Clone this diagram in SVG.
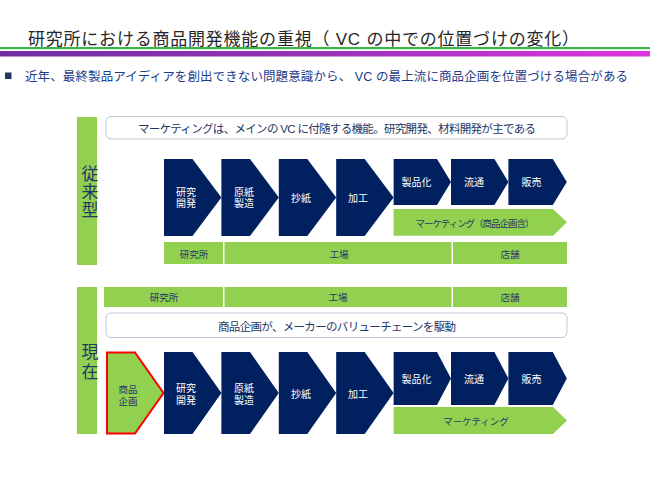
<svg xmlns="http://www.w3.org/2000/svg" width="650" height="487" viewBox="0 0 650 487">
<defs>
<linearGradient id="band" x1="0" y1="0" x2="1" y2="0">
<stop offset="0" stop-color="#6F2F9F"/>
<stop offset="0.5" stop-color="#9A32B8"/>
<stop offset="1" stop-color="#DE35DE"/>
</linearGradient>
<style>
text{font-family:"Liberation Sans","Noto Sans CJK JP",sans-serif;}
.navy{fill:#002060;}
.green{fill:#92D050;}
.box{fill:#FFFFFF;stroke:#BCC7D5;stroke-width:1;}
.wt{fill:#FFFFFF;font-size:10px;text-anchor:middle;}
.lb{fill:#1F3864;font-size:9.5px;text-anchor:middle;}
.bt{fill:#1F3864;font-size:11.5px;text-anchor:middle;}
.vt{fill:#1F3864;font-size:17px;text-anchor:middle;}
</style>
</defs>
<rect width="650" height="487" fill="#FFFFFF"/>

<g id="header">
<text x="28" y="44.5" font-size="17" fill="#262626" textLength="551" lengthAdjust="spacing">研究所における商品開発機能の重視（ VC の中での位置づけの変化）</text>
<rect x="0" y="47" width="650" height="2.2" fill="#3CB44B"/>
<rect x="0" y="51" width="650" height="5.5" fill="url(#band)"/>
<rect x="5" y="72.5" width="6.5" height="6.5" fill="#1F3864"/>
<text x="25" y="81" font-size="12.5" fill="#1F3C88" textLength="603" lengthAdjust="spacing">近年、最終製品アイディアを創出できない問題意識から、 VC の最上流に商品企画を位置づける場合がある</text>
</g>

<g id="connectors"/>

<!-- Conventional section -->
<g id="label-conventional">
<rect x="77" y="117" width="20" height="148" class="green"/>
<text x="90" y="179.5" class="vt">従</text>
<text x="90" y="198" class="vt">来</text>
<text x="90" y="216" class="vt">型</text>
</g>
<g id="note-conventional">
<rect x="106" y="116.5" width="461" height="22.5" rx="5" class="box"/>
<text x="337" y="132.5" class="bt" textLength="398" lengthAdjust="spacing">マーケティングは、メインの VC に付随する機能。研究開発、材料開発が主である</text>
</g>
<g id="c1-rd">
<polygon points="164,159 192.5,159 221.4,197.5 192.5,236 164,236" class="navy"/>
<text x="186" y="195.5" class="wt">研究</text><text x="186" y="206.5" class="wt">開発</text>
</g>
<g id="c1-pulp">
<polygon points="221.4,159 250,159 278.8,197.5 250,236 221.4,236" class="navy"/>
<text x="244" y="195.5" class="wt">原紙</text><text x="244" y="206.5" class="wt">製造</text>
</g>
<g id="c1-paper">
<polygon points="278.8,159 307.3,159 336.2,197.5 307.3,236 278.8,236" class="navy"/>
<text x="301" y="202" class="wt">抄紙</text>
</g>
<g id="c1-process">
<polygon points="336.2,159 364.7,159 393.6,197.5 364.7,236 336.2,236" class="navy"/>
<text x="358" y="202" class="wt">加工</text>
</g>
<g id="c1-product">
<polygon points="393.6,159 437,159 451,182 437,205 393.6,205" class="navy"/>
<text x="416.5" y="186" class="wt">製品化</text>
</g>
<g id="c1-dist">
<polygon points="451,159 494.4,159 508.4,182 494.4,205 451,205" class="navy"/>
<text x="474" y="186" class="wt">流通</text>
</g>
<g id="c1-sales">
<polygon points="508.4,159 552.8,159 566.8,182 552.8,205 508.4,205" class="navy"/>
<text x="531.5" y="186" class="wt">販売</text>
</g>
<g id="c1-marketing">
<polygon points="393.6,209 553,209 567,222.3 553,235.7 393.6,235.7" class="green"/>
<text x="475" y="226.5" class="lb" textLength="119" lengthAdjust="spacing">マーケティング（商品企画含）</text>
</g>
<g id="c1-places">
<rect x="164" y="242" width="59" height="22" class="green"/>
<rect x="224.5" y="242" width="227" height="22" class="green"/>
<rect x="453" y="242" width="114" height="22" class="green"/>
<text x="194" y="257.5" class="lb">研究所</text>
<text x="339" y="257.5" class="lb">工場</text>
<text x="510" y="257.5" class="lb">店舗</text>
</g>

<!-- Current section -->
<g id="label-current">
<rect x="77" y="287" width="20" height="147" class="green"/>
<text x="90" y="358" class="vt">現</text>
<text x="90" y="378" class="vt">在</text>
</g>
<g id="c2-places">
<rect x="104" y="287" width="119" height="20" class="green"/>
<rect x="224.5" y="287" width="227" height="20" class="green"/>
<rect x="453" y="287" width="114" height="20" class="green"/>
<text x="164" y="300.5" class="lb">研究所</text>
<text x="338" y="300.5" class="lb">工場</text>
<text x="510" y="300.5" class="lb">店舗</text>
</g>
<g id="note-current">
<rect x="106" y="313" width="461" height="24.5" rx="5" class="box"/>
<text x="337" y="330.5" class="bt" font-size="11" textLength="238" lengthAdjust="spacing">商品企画が、メーカーのバリューチェーンを駆動</text>
</g>
<g id="c2-planning">
<polygon points="107,352.5 135,352.5 163.5,393 135,433.5 107,433.5" fill="#92D050" stroke="#FF0000" stroke-width="2" stroke-linejoin="miter"/>
<text x="128" y="392.5" class="lb" font-size="10">商品</text><text x="128" y="405" class="lb" font-size="10">企画</text>
</g>
<g id="c2-rd">
<polygon points="164,352 192.5,352 221.4,393 192.5,434 164,434" class="navy"/>
<text x="186" y="392" class="wt">研究</text><text x="186" y="403.5" class="wt">開発</text>
</g>
<g id="c2-pulp">
<polygon points="221.4,352 250,352 278.8,393 250,434 221.4,434" class="navy"/>
<text x="244" y="392" class="wt">原紙</text><text x="244" y="403.5" class="wt">製造</text>
</g>
<g id="c2-paper">
<polygon points="278.8,352 307.3,352 336.2,393 307.3,434 278.8,434" class="navy"/>
<text x="301" y="397.5" class="wt">抄紙</text>
</g>
<g id="c2-process">
<polygon points="336.2,352 364.7,352 393.6,393 364.7,434 336.2,434" class="navy"/>
<text x="358" y="397.5" class="wt">加工</text>
</g>
<g id="c2-product">
<polygon points="393.6,352 437,352 451,378.5 437,405 393.6,405" class="navy"/>
<text x="416.5" y="382.5" class="wt">製品化</text>
</g>
<g id="c2-dist">
<polygon points="451,352 494.4,352 508.4,378.5 494.4,405 451,405" class="navy"/>
<text x="474" y="382.5" class="wt">流通</text>
</g>
<g id="c2-sales">
<polygon points="508.4,352 552.8,352 566.8,378.5 552.8,405 508.4,405" class="navy"/>
<text x="531.5" y="382.5" class="wt">販売</text>
</g>
<g id="c2-marketing">
<polygon points="393.6,407 553,407 567,420.5 553,434 393.6,434" class="green"/>
<text x="476" y="424.5" class="lb">マーケティング</text>
</g>
</svg>
